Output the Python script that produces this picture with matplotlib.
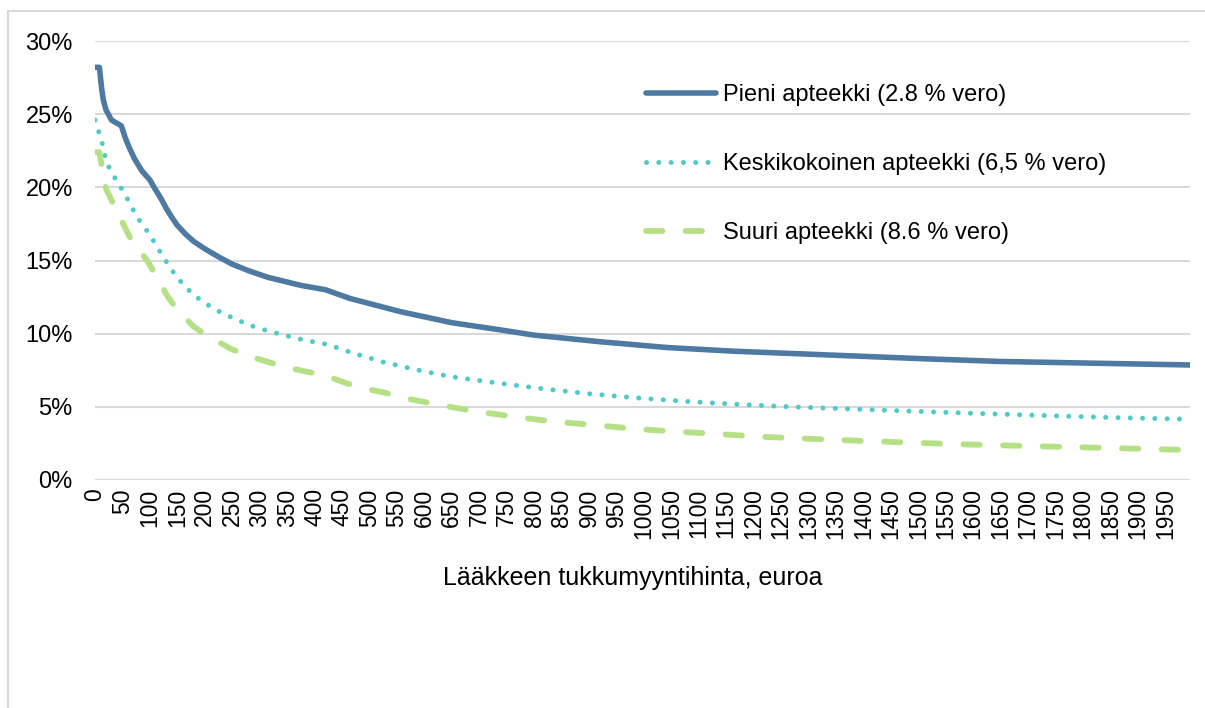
import matplotlib
matplotlib.use("Agg")
import matplotlib.pyplot as plt
from matplotlib.patches import Rectangle
from matplotlib.ticker import FuncFormatter

plt.rcParams['font.family'] = ['Liberation Sans', 'DejaVu Sans']

# wholesale price (euro) -> margin share (%)
pieni_x = [0, 8, 12, 15, 20, 30, 48, 55, 62, 72, 85, 100, 110, 120, 130, 140, 150,
           165, 180, 200, 225, 250, 280, 315, 375, 420, 465, 557, 650, 740, 800,
           920, 1043, 1165, 1286, 1500, 1650, 1837, 1995]
pieni_y = [28.2, 28.2, 26.8, 26.0, 25.3, 24.6, 24.2, 23.4, 22.75, 21.95, 21.15,
           20.5, 19.85, 19.25, 18.55, 17.95, 17.4, 16.8, 16.3, 15.8, 15.25, 14.75,
           14.3, 13.85, 13.3, 13.0, 12.4, 11.5, 10.75, 10.25, 9.9, 9.45, 9.05, 8.8,
           8.62, 8.3, 8.1, 7.97, 7.86]

keski_x = [0, 12, 21, 33, 55, 76, 100, 125, 149, 179, 216, 255, 295, 338, 380,
           423, 465, 526, 587, 648, 739, 824, 910, 998, 1086, 1171, 1262, 1400,
           1550, 1700, 1850, 1995]
keski_y = [24.6, 23.2, 21.7, 20.85, 19.5, 18.0, 16.75, 15.2, 13.85, 12.65, 11.7,
           11.0, 10.4, 9.96, 9.57, 9.27, 8.73, 8.05, 7.52, 7.06, 6.6, 6.2, 5.86,
           5.58, 5.35, 5.17, 5.01, 4.82, 4.62, 4.44, 4.27, 4.15]

suuri_x = [0, 8, 12, 20, 33, 54, 66, 95, 109, 133, 149, 179, 207, 246, 274, 313,
           344, 386, 417, 459, 490, 532, 563, 618, 688, 763, 836, 909, 985, 1062,
           1138, 1211, 1281, 1400, 1550, 1700, 1834, 1995]
suuri_y = [22.4, 22.4, 21.5, 19.9, 18.9, 17.3, 16.4, 15.0, 14.1, 12.5, 11.7, 10.5,
           9.8, 9.0, 8.54, 8.09, 7.74, 7.4, 7.18, 6.6, 6.27, 5.93, 5.6, 5.2, 4.72,
           4.33, 3.99, 3.76, 3.49, 3.3, 3.14, 2.96, 2.85, 2.67, 2.47, 2.32, 2.2,
           2.05]

labels = ['Pieni apteekki (2.8 % vero)',
          'Keskikokoinen apteekki (6,5 % vero)',
          'Suuri apteekki (8.6 % vero)']
x_ticks = list(range(0, 2000, 50))
y_ticks = [0, 5, 10, 15, 20, 25, 30]

fig = plt.figure(figsize=(12.05, 7.08), dpi=100)
ax = fig.add_axes([95 / 1205, 1 - 480 / 708, (1190 - 95) / 1205, (480 - 41) / 708])

ax.plot(pieni_x, pieni_y, color='#4E79A1', lw=4.0, solid_capstyle='round',
        solid_joinstyle='round', label=labels[0])
ax.plot(keski_x, keski_y, color='#4ECBC4', lw=3.6, dash_capstyle='round',
        linestyle=(0, (0.01, 2.45)), label=labels[1])
ax.plot(suuri_x, suuri_y, color='#B6E085', lw=4.2, dash_capstyle='round',
        linestyle=(0, (2.8, 4.0)), label=labels[2])

ax.set_xlim(0, 1995)
ax.set_ylim(0, 30)
ax.set_xticks(x_ticks)
ax.set_xticklabels([str(t) for t in x_ticks], rotation=90, fontsize=16.5)
ax.set_yticks(y_ticks)
ax.yaxis.set_major_formatter(FuncFormatter(lambda v, p: '%d%%' % v))
ax.tick_params(axis='y', length=0, pad=16, labelsize=17)
ax.tick_params(axis='x', length=0, pad=6)
ax.grid(axis='y', color='#D9D9D9', lw=1.5)
ax.set_axisbelow(True)
for s in ax.spines.values():
    s.set_visible(False)

ax.set_xlabel('Lääkkeen tukkumyyntihinta, euroa', fontsize=18)
ax.xaxis.set_label_coords((633 - 95) / 1095, -(566 - 480) / 439)

ax.legend(loc='upper left', bbox_to_anchor=(646 / 1205, 1 - 84 / 708),
          bbox_transform=fig.transFigure, frameon=False, fontsize=17,
          handlelength=2.97, handletextpad=0.3, labelspacing=2.0, borderpad=0,
          borderaxespad=0)

# outer chart border (light gray)
fig.patches.append(Rectangle((8 / 1205, -0.1), 1.2, 1.1 - 11 / 708, fill=False,
                             edgecolor='#D9D9D9', lw=1.5, transform=fig.transFigure))

fig.savefig('out.png', dpi=100)
